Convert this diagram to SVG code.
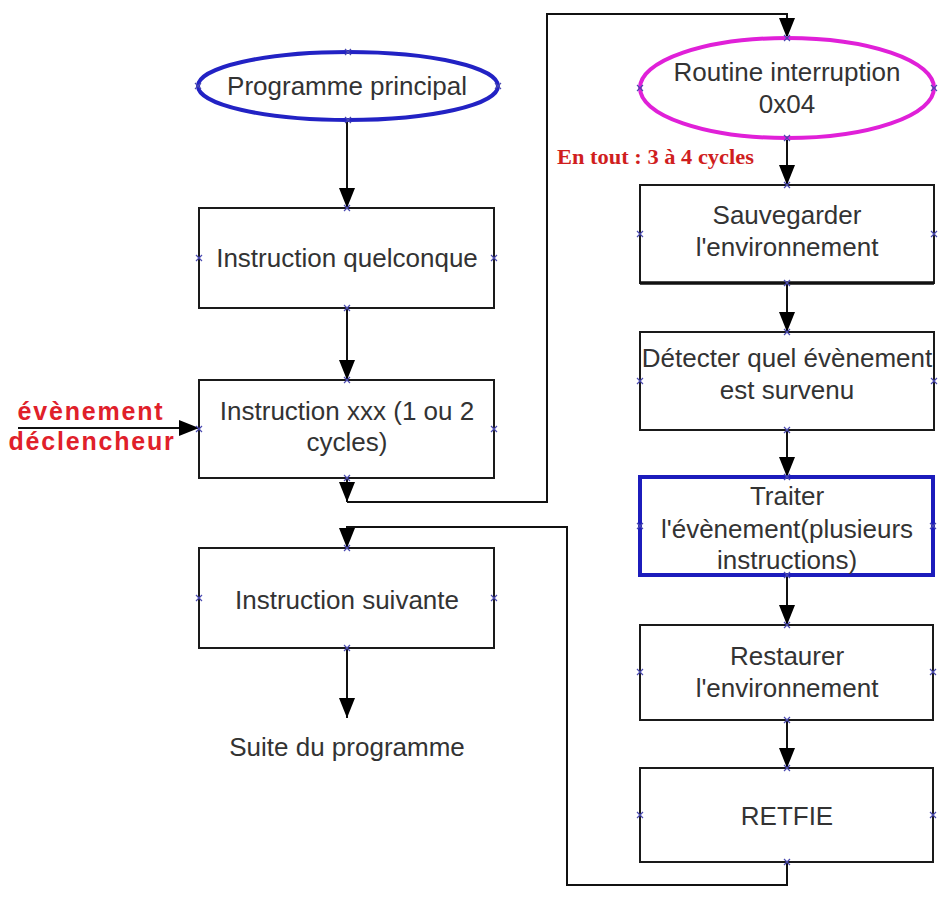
<svg xmlns="http://www.w3.org/2000/svg" xmlns:xlink="http://www.w3.org/1999/xlink" width="941" height="898" viewBox="0 0 941 898">
<style>
  .t { font-family: "Liberation Sans", Arial, sans-serif; font-size: 26px; fill: #333333; text-anchor: middle; }
  .red { font-family: "Liberation Sans", Arial, sans-serif; font-size: 25px; font-weight: bold; fill: #e0202a; text-anchor: middle; letter-spacing: 1.8px; }
  .redserif { font-family: "Liberation Serif", "Times New Roman", serif; font-size: 21px; font-weight: bold; fill: #d01e1e; }
  .box { fill: #ffffff; stroke: #1a1a1a; stroke-width: 2; }
  .conn { fill: none; stroke: #111111; stroke-width: 2; }
  .mk { fill: none; stroke: #4a4ab0; stroke-width: 1.2; }
</style>
<defs>
  <marker id="arr" markerUnits="userSpaceOnUse" markerWidth="22" markerHeight="18" refX="20" refY="9" orient="auto">
    <path d="M0,1 L20,9 L0,17 z" fill="#000000"/>
  </marker>
  <path id="x" class="mk" d="M-3,-3 L3,3 M-3,3 L3,-3"/>
</defs>
<rect x="0" y="0" width="941" height="898" fill="#ffffff"/>

<g id="connectors">
  <path class="conn" d="M347,122 V208" marker-end="url(#arr)"/>
  <path class="conn" d="M347,308 V380" marker-end="url(#arr)"/>
  <path class="conn" d="M347,478 V502" marker-end="url(#arr)"/>
  <path class="conn" d="M347,502 H547 V14 H787 V38" marker-end="url(#arr)"/>
  <path class="conn" d="M787,138 V185" marker-end="url(#arr)"/>
  <path class="conn" d="M787,283 V332" marker-end="url(#arr)"/>
  <path class="conn" d="M787,430 V477" marker-end="url(#arr)"/>
  <path class="conn" d="M787,575 V625" marker-end="url(#arr)"/>
  <path class="conn" d="M787,720 V768" marker-end="url(#arr)"/>
  <path class="conn" d="M787,862 V885 H567 V527 H347 V548" marker-end="url(#arr)"/>
  <path class="conn" d="M347,648 V718" marker-end="url(#arr)"/>
  <path class="conn" d="M18,428 H199" marker-end="url(#arr)"/>
</g>

<g id="programme-principal">
  <ellipse cx="348" cy="86" rx="150" ry="34" fill="#ffffff" stroke="#2222c4" stroke-width="4"/>
  <text class="t" x="347" y="95">Programme principal</text>
  <use href="#x" x="348" y="52"/><use href="#x" x="348" y="120"/><use href="#x" x="198" y="86"/><use href="#x" x="498" y="86"/>
</g>

<g id="instruction-quelconque">
  <rect class="box" x="199" y="208" width="295" height="100"/>
  <text class="t" x="347" y="267">Instruction quelconque</text>
  <use href="#x" x="347" y="208"/><use href="#x" x="347" y="308"/><use href="#x" x="199" y="258"/><use href="#x" x="494" y="258"/>
</g>

<g id="instruction-xxx">
  <rect class="box" x="199" y="380" width="295" height="98"/>
  <text class="t" x="347" y="420">Instruction xxx (1 ou 2</text>
  <text class="t" x="347" y="451">cycles)</text>
  <use href="#x" x="347" y="380"/><use href="#x" x="347" y="478"/><use href="#x" x="199" y="429"/><use href="#x" x="494" y="429"/>
</g>

<g id="evenement">
  <text class="red" x="91" y="420">évènement</text>
  <text class="red" x="92" y="450">déclencheur</text>
</g>

<g id="instruction-suivante">
  <rect class="box" x="199" y="548" width="295" height="100"/>
  <text class="t" x="347" y="609">Instruction suivante</text>
  <use href="#x" x="347" y="548"/><use href="#x" x="347" y="648"/><use href="#x" x="199" y="598"/><use href="#x" x="494" y="598"/>
</g>

<g id="suite">
  <text class="t" x="347" y="756">Suite du programme</text>
</g>

<g id="routine">
  <ellipse cx="787" cy="88" rx="147" ry="50" fill="#ffffff" stroke="#e020d8" stroke-width="4"/>
  <text class="t" x="787" y="81">Routine interruption</text>
  <text class="t" x="787" y="113">0x04</text>
  <use href="#x" x="787" y="38"/><use href="#x" x="787" y="138"/><use href="#x" x="640" y="88"/><use href="#x" x="934" y="88"/>
</g>

<g id="en-tout">
  <text class="redserif" x="557" y="164" textLength="197" lengthAdjust="spacingAndGlyphs">En tout : 3 à 4 cycles</text>
</g>

<g id="sauvegarder">
  <rect class="box" x="640" y="185" width="294" height="98"/>
  <line x1="640" y1="283" x2="934" y2="283" stroke="#111" stroke-width="3.5"/>
  <text class="t" x="787" y="224">Sauvegarder</text>
  <text class="t" x="787" y="256">l'environnement</text>
  <use href="#x" x="787" y="185"/><use href="#x" x="787" y="283"/><use href="#x" x="640" y="234"/><use href="#x" x="934" y="234"/>
</g>

<g id="detecter">
  <rect class="box" x="640" y="332" width="294" height="98"/>
  <text class="t" x="787" y="367">Détecter quel évènement</text>
  <text class="t" x="787" y="399">est survenu</text>
  <use href="#x" x="787" y="332"/><use href="#x" x="787" y="430"/><use href="#x" x="640" y="381"/><use href="#x" x="934" y="381"/>
</g>

<g id="traiter">
  <rect x="640" y="477" width="293" height="98" fill="#ffffff" stroke="#1c1cbc" stroke-width="4"/>
  <text class="t" x="787" y="505">Traiter</text>
  <text class="t" x="787" y="538">l'évènement(plusieurs</text>
  <text class="t" x="787" y="569">instructions)</text>
  <use href="#x" x="787" y="477"/><use href="#x" x="787" y="575"/><use href="#x" x="640" y="526"/><use href="#x" x="933" y="526"/>
</g>

<g id="restaurer">
  <rect class="box" x="640" y="625" width="293" height="95"/>
  <text class="t" x="787" y="665">Restaurer</text>
  <text class="t" x="787" y="697">l'environnement</text>
  <use href="#x" x="787" y="625"/><use href="#x" x="787" y="720"/><use href="#x" x="640" y="672"/><use href="#x" x="933" y="672"/>
</g>

<g id="retfie">
  <rect class="box" x="640" y="768" width="293" height="94"/>
  <text class="t" x="787" y="825">RETFIE</text>
  <use href="#x" x="787" y="768"/><use href="#x" x="787" y="862"/><use href="#x" x="640" y="815"/><use href="#x" x="933" y="815"/>
</g>
</svg>
